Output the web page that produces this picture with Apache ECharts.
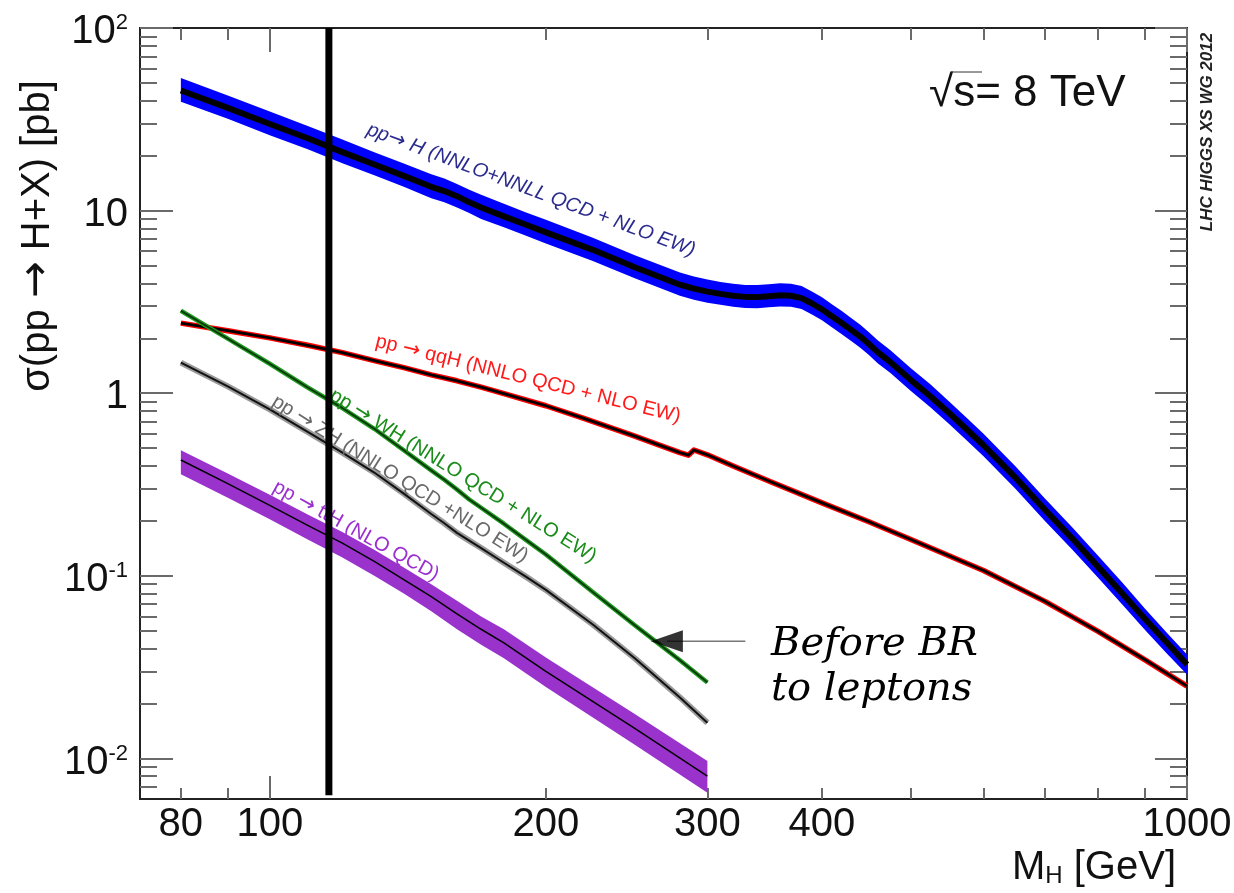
<!DOCTYPE html>
<html>
<head>
<meta charset="utf-8">
<title>SM Higgs production cross sections at 8 TeV</title>
<script src="https://cdn.jsdelivr.net/npm/echarts@6/dist/echarts.min.js"></script>
<style>
html, body { margin: 0; padding: 0; background: #fff; }
#chart { width: 1234px; height: 893px; }
</style>
</head>
<body>
<div id="chart"></div>
<script>
// values: M_H in GeV, sigma in pb
var ggfMass = [80, 90, 100, 110, 120, 130, 140, 150, 155, 160, 165, 170, 180, 190, 200, 225, 250, 280, 290, 300,
	310, 320, 330, 340, 350, 360, 370, 380, 390, 400, 410, 420, 430, 440, 450, 460, 475, 500, 525, 550,
	575, 600, 650, 700, 750, 800, 850, 900, 950, 1000];
var ggfCentral = [45.5, 36.5, 29.8, 24.9, 20.9, 17.9, 15.5, 13.5, 12.8, 12.0, 11.1, 10.4, 9.3, 8.4, 7.6, 6.1, 4.9, 3.93, 3.74, 3.60,
	3.50, 3.42, 3.37, 3.36, 3.40, 3.44, 3.42, 3.32, 3.10, 2.88, 2.64, 2.43, 2.23, 2.05, 1.86, 1.68, 1.48, 1.18, 0.963, 0.782,
	0.635, 0.519, 0.345, 0.230, 0.160, 0.112, 0.080, 0.058, 0.0433, 0.0327];
var ggfHigh = [53.2, 42.7, 34.9, 29.1, 24.5, 20.9, 18.1, 15.8, 15.0, 14.0, 13.0, 12.2, 10.9, 9.8, 8.9, 7.1, 5.7, 4.58, 4.36, 4.19,
	4.07, 3.98, 3.92, 3.91, 3.95, 4.0, 3.98, 3.86, 3.61, 3.35, 3.07, 2.83, 2.59, 2.38, 2.16, 1.95, 1.72, 1.37, 1.12, 0.905,
	0.735, 0.600, 0.398, 0.265, 0.184, 0.129, 0.092, 0.066, 0.049, 0.0371];
var ggfLow = [39.5, 31.8, 25.9, 21.7, 18.2, 15.6, 13.5, 11.7, 11.1, 10.4, 9.7, 9.0, 8.1, 7.3, 6.6, 5.3, 4.26, 3.42, 3.25, 3.13,
	3.05, 2.98, 2.93, 2.92, 2.96, 2.99, 2.98, 2.89, 2.70, 2.51, 2.30, 2.11, 1.94, 1.78, 1.62, 1.46, 1.29, 1.03, 0.838, 0.680,
	0.553, 0.452, 0.300, 0.200, 0.139, 0.0975, 0.0696, 0.0505, 0.0377, 0.0288];

var vbfMass = [80, 90, 100, 110, 120, 130, 140, 150, 160, 170, 180, 200, 220, 250, 280, 286, 290, 300, 320, 350,
	400, 450, 500, 600, 700, 800, 900, 1000];
var vbfCentral = [2.42, 2.20, 2.01, 1.83, 1.67, 1.51, 1.38, 1.26, 1.17, 1.08, 0.996, 0.854, 0.729, 0.582, 0.473, 0.458, 0.489, 0.460, 0.400, 0.331,
	0.251, 0.198, 0.158, 0.107, 0.0725, 0.0496, 0.0347, 0.0249];

var vhMass = [80, 90, 100, 110, 120, 130, 140, 150, 155, 160, 165, 170, 180, 190, 200, 225, 250, 280, 300];
var whCentral = [2.83, 1.99, 1.45, 1.075, 0.830, 0.639, 0.487, 0.378, 0.336, 0.297, 0.262, 0.236, 0.193, 0.158, 0.131, 0.0815, 0.0537, 0.0345, 0.0261];
var zhCentral = [1.47, 1.09, 0.816, 0.615, 0.473, 0.368, 0.282, 0.218, 0.194, 0.172, 0.156, 0.142, 0.118, 0.0994, 0.0838, 0.0542, 0.0354, 0.0216, 0.0157];

var tthMass = [80, 90, 100, 110, 120, 130, 140, 150, 160, 170, 180, 200, 250, 300];
var tthCentral = [0.431, 0.320, 0.243, 0.189, 0.151, 0.120, 0.0955, 0.077, 0.062, 0.051, 0.043, 0.030, 0.0146, 0.0080];
var tthHigh = [0.487, 0.364, 0.278, 0.217, 0.174, 0.139, 0.111, 0.090, 0.073, 0.060, 0.051, 0.0357, 0.0175, 0.0097];
var tthLow = [0.360, 0.268, 0.204, 0.158, 0.126, 0.100, 0.080, 0.064, 0.051, 0.042, 0.0354, 0.0246, 0.0119, 0.0065];

var markerMass = 116;
var markerRange = [0.0063, 100];
var arrowMass = [271, 330];
var arrowLevel = 0.0439;

var xLabelValues = [80, 100, 200, 300, 400, 1000];
var xMinorTicks = [80, 90, 200, 300, 400, 500, 600, 700, 800, 900];
var xMajorTicks = [100, 1000];
var yLabelValues = [0.01, 0.1, 1, 10, 100];
var yMinorTicks = [0.007, 0.008, 0.009, 0.02, 0.03, 0.04, 0.05, 0.06, 0.07, 0.08, 0.09,
	0.2, 0.3, 0.4, 0.5, 0.6, 0.7, 0.8, 0.9, 2, 3, 4, 5, 6, 7, 8, 9,
	20, 30, 40, 50, 60, 70, 80, 90];
var yMajorTicks = [0.01, 0.1, 1, 10, 100];

var xMin = 72.2, xMax = 1000, yMin = 0.006, yMax = 100;
var sans = "Liberation Sans";

var chart = echarts.init(document.getElementById("chart"));

function pairs(ms, vs) {
	return ms.map(function (m, i) {
		return [m, vs[i]];
	});
}

function makeAxis(dim, position, ticks, length, label) {
	var axis = {
		type: "log",
		position: position,
		min: dim == "x" ? xMin : yMin,
		max: dim == "x" ? xMax : yMax,
		axisLine: { show: true, onZero: false, lineStyle: { color: "#222", width: 2 } },
		axisTick: { show: true, inside: true, length: length, customValues: ticks, lineStyle: { color: "#6a6a6a", width: 2 } },
		axisLabel: { show: false },
		splitLine: { show: false },
		minorTick: { show: false }
	};
	if (label) {
		axis.axisLabel = label;
	}
	return axis;
}

var xLabel = {
	show: true,
	customValues: xLabelValues,
	fontFamily: sans,
	fontSize: 40,
	lineHeight: 40,
	color: "#111",
	margin: 6,
	formatter: function (v) {
		return String(Math.round(v));
	}
};

var yLabel = {
	show: true,
	customValues: yLabelValues,
	margin: 12,
	padding: [8, 0, 0, 0],
	color: "#111",
	formatter: function (v) {
		var p = Math.round(Math.log(v) / Math.LN10);
		if (p === 0) return "{n|1}";
		if (p === 1) return "{n|10}";
		return "{n|10}{e|" + p + "}";
	},
	rich: {
		n: { fontFamily: sans, fontSize: 40, lineHeight: 40, color: "#111" },
		e: { fontFamily: sans, fontSize: 22, lineHeight: 22, verticalAlign: "top", color: "#111" }
	}
};

function band(ms, hi, lo, color) {
	return {
		type: "custom",
		silent: true,
		z: 1,
		data: [[ms[0], hi[0]]],
		renderItem: function (params, api) {
			var pts = [];
			for (var i = 0; i < ms.length; i++) {
				pts.push(api.coord([ms[i], hi[i]]));
			}
			for (var j = ms.length - 1; j >= 0; j--) {
				pts.push(api.coord([ms[j], lo[j]]));
			}
			return { type: "polygon", shape: { points: pts }, style: { fill: color } };
		}
	};
}

function curve(ms, vs, color, width, z) {
	return {
		type: "line",
		silent: true,
		z: z,
		data: pairs(ms, vs),
		symbol: "none",
		showSymbol: false,
		lineStyle: { color: color, width: width, join: "round" }
	};
}

// process labels, the arrow comes from DejaVu Sans (the Liberation one is tiny)
function label(text, x, y, angle, color, italic) {
	return {
		type: "text",
		x: x,
		y: y,
		z: 5,
		rotation: -angle * Math.PI / 180,
		style: {
			text: text,
			fontFamily: sans,
			fontSize: 20,
			fontStyle: italic ? "italic" : "normal",
			fill: color,
			align: "center",
			verticalAlign: "middle",
			rich: {
				r: { fontFamily: "DejaVu Sans", fontSize: 21, fill: color }
			}
		}
	};
}

var option = {
	animation: false,
	backgroundColor: "#fff",
	textStyle: { fontFamily: sans },
	grid: { left: 140, top: 28, right: 47, bottom: 94, outerBoundsMode: "none" },
	xAxis: [
		makeAxis("x", "bottom", xMinorTicks, 11, xLabel),
		makeAxis("x", "bottom", xMajorTicks, 23),
		makeAxis("x", "top", xMinorTicks, 12),
		makeAxis("x", "top", xMajorTicks, 24)
	],
	yAxis: [
		makeAxis("y", "left", yMinorTicks, 17, yLabel),
		makeAxis("y", "left", yMajorTicks, 33),
		makeAxis("y", "right", yMinorTicks, 17),
		makeAxis("y", "right", yMajorTicks, 32)
	],
	series: [
		band(ggfMass, ggfHigh, ggfLow, "#0000ff"),
		band(tthMass, tthHigh, tthLow, "#9933cc"),
		curve(ggfMass, ggfCentral, "#000", 6, 3),
		curve(vbfMass, vbfCentral, "#ff0000", 5.5, 3),
		curve(vbfMass, vbfCentral, "#000", 2.8, 3),
		curve(vhMass, whCentral, "#1f9a1f", 4.5, 3),
		curve(vhMass, whCentral, "#0b360b", 1.8, 3),
		curve(vhMass, zhCentral, "#9a9a9a", 6, 3),
		curve(vhMass, zhCentral, "#111", 2, 3),
		curve(tthMass, tthCentral, "#000", 1.5, 3),
		curve([markerMass, markerMass], markerRange, "#000", 7, 10),
		curve(arrowMass, [arrowLevel, arrowLevel], "#777", 1.5, 6),
		{
			type: "scatter",
			silent: true,
			z: 7,
			data: [[arrowMass[0], arrowLevel]],
			symbol: "triangle",
			symbolRotate: 90,
			symbolSize: [22, 32],
			itemStyle: { color: "#000" }
		}
	],
	graphic: [
		label("pp{r|\u2192} H (NNLO+NNLL QCD + NLO EW)", 531, 190, 20.5, "#2b2b8f", true),
		label("pp {r|\u2192} qqH (NNLO QCD + NLO EW)", 528, 379, 14, "#ff1a1a", false),
		label("pp {r|\u2192} WH (NNLO QCD + NLO EW)", 463, 476, 32, "#1a8c1a", false),
		label("pp {r|\u2192} ZH (NNLO QCD +NLO EW)", 400, 479, 32, "#6a6a6a", false),
		label("pp {r|\u2192} ttH (NLO QCD)", 356, 531, 29, "#9b30d0", false),
		{
			type: "text", x: 929, y: 94, z: 5,
			style: { text: "\u221as= 8 TeV", fontFamily: sans, fontSize: 44, fill: "#111", align: "left", verticalAlign: "middle" }
		},
		{
			type: "line", z: 5,
			shape: { x1: 951, y1: 72, x2: 982, y2: 72 },
			style: { stroke: "#333", lineWidth: 1 }
		},
		{
			type: "text", x: 1207, y: 132, z: 5, rotation: Math.PI / 2,
			style: { text: "LHC HIGGS XS WG 2012", fontFamily: sans, fontSize: 17, fontWeight: "bold", fontStyle: "italic", fill: "#222", align: "center", verticalAlign: "middle" }
		},
		{
			type: "text", x: 38, y: 236, z: 5, rotation: Math.PI / 2,
			style: {
				text: "\u03c3(pp {r|\u2192} H+X) [pb]",
				fontFamily: sans, fontSize: 40, fill: "#111", align: "center", verticalAlign: "middle",
				rich: { r: { fontFamily: "DejaVu Sans", fontSize: 44, fill: "#111" } }
			}
		},
		{
			type: "text", x: 1176, y: 848, z: 5,
			style: {
				text: "{a|M}{s|H}{a| [GeV]}",
				align: "right",
				verticalAlign: "top",
				rich: {
					a: { fontFamily: sans, fontSize: 40, lineHeight: 40, fill: "#111" },
					s: { fontFamily: sans, fontSize: 24, lineHeight: 10, verticalAlign: "bottom", fill: "#111" }
				}
			}
		},
		{
			type: "text", x: 771, y: 667, z: 5,
			style: { text: "Before BR\nto leptons", fontFamily: "DejaVu Serif", fontStyle: "italic", fontSize: 40, lineHeight: 45, fill: "#000", align: "left", verticalAlign: "middle" }
		}
	]
};

chart.setOption(option);
</script>
</body>
</html>
